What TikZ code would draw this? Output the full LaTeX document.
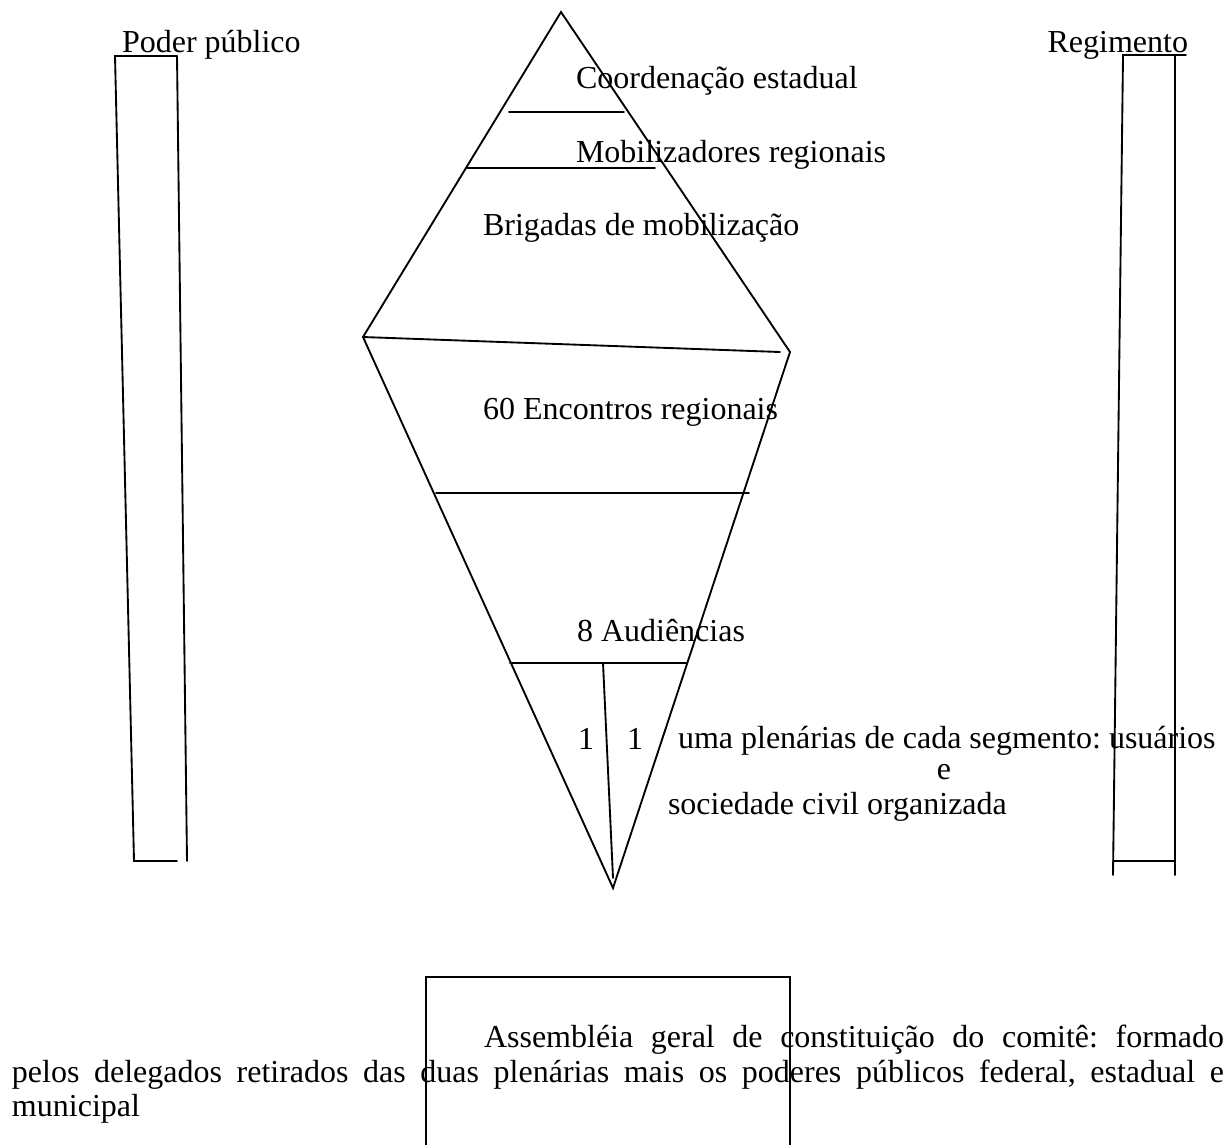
\documentclass[tikz,border=0pt]{standalone}
\usepackage{fontspec}
\setmainfont{Liberation Serif}
\frenchspacing
\begin{document}
\begin{tikzpicture}[x=0.375pt,y=-0.375pt,
  edge/.style={line width=0.7pt,line cap=round,line join=miter},
  lbl/.style={anchor=base west,inner sep=0pt,outer sep=0pt,font=\fontsize{12pt}{14pt}\selectfont}]
\useasboundingbox (0,0) rectangle (1229,1144);
% diamond vertices
\coordinate (T) at (561,12);
\coordinate (L) at (363,337);
\coordinate (R) at (790,352);
\coordinate (B) at (613,888);
\draw[edge] (L) -- (T) -- (R) -- (B) -- cycle;
% layer lines
\coordinate (a1) at (509,112); \coordinate (a2) at (624,112);
\coordinate (b1) at (467,168); \coordinate (b2) at (655,168);
\coordinate (c2) at (780,352);
\coordinate (d1) at (436,493); \coordinate (d2) at (749,493);
\coordinate (e1) at (510,663); \coordinate (e2) at (687,663);
\coordinate (f1) at (603,663); \coordinate (f2) at (613,878);
\draw[edge] (a1) -- (a2);
\draw[edge] (b1) -- (b2);
\draw[edge] (L) -- (c2);
\draw[edge] (d1) -- (d2);
\draw[edge] (e1) -- (e2);
\draw[edge] (f1) -- (f2);
% left bar
\coordinate (p1) at (115,56); \coordinate (p2) at (177,56);
\coordinate (p3) at (134,861); \coordinate (p4) at (177,861);
\coordinate (p5) at (187,861);
\draw[edge] (p2) -- (p1) -- (p3) -- (p4);
\draw[edge] (p2) -- (p5);
% right bar
\coordinate (r1) at (1123,55); \coordinate (r2) at (1186,55);
\coordinate (r3) at (1113,875); \coordinate (r4) at (1175,55);
\coordinate (r5) at (1175,875); \coordinate (r6) at (1113,861);
\coordinate (r7) at (1175,861);
\draw[edge] (r2) -- (r1) -- (r3);
\draw[edge] (r4) -- (r5);
\draw[edge] (r6) -- (r7);
% bottom box
\coordinate (q1) at (426,1150); \coordinate (q2) at (426,977);
\coordinate (q3) at (790,977); \coordinate (q4) at (790,1150);
\draw[edge] (q1) -- (q2) -- (q3) -- (q4);
% texts
\node[lbl] (tpoder) at (122,52) {Poder público};
\node[lbl,anchor=base east] (treg) at (1188,52) {Regimento};
\node[lbl] (tcoord) at (576,88) {Coordenação estadual};
\node[lbl] (tmob) at (576,162) {Mobilizadores regionais};
\node[lbl] (tbrig) at (483,235) {Brigadas de mobilização};
\node[lbl] (tenc) at (483,419) {60 Encontros regionais};
\node[lbl] (taud) at (577,641) {8 Audiências};
\node[lbl] (tone) at (578,749) {1};
\node[lbl] (ttwo) at (627,749) {1};
\node[lbl] (tuma) at (678,748) {uma plenárias de cada segmento: usuários};
\node[lbl,anchor=base] (te) at (944,779) {e};
\node[lbl] (tsoc) at (668,814) {sociedade civil organizada};
\node[lbl] (tl1) at (484,1047) {\makebox[277.5pt][s]{Assembléia geral de constituição do comitê: formado}};
\node[lbl] (tl2) at (12,1082) {\makebox[454.5pt][s]{pelos delegados retirados das duas plenárias mais os poderes públicos federal, estadual e}};
\node[lbl] (tl3) at (12,1116) {municipal};
\end{tikzpicture}
\end{document}
